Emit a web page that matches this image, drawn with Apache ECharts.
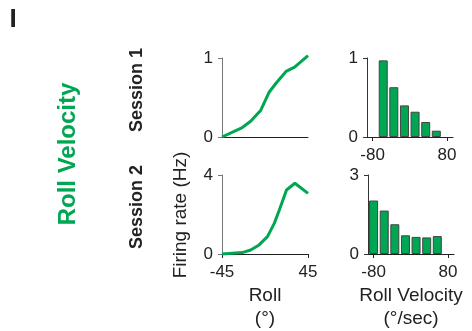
<!DOCTYPE html>
<html>
<head>
<meta charset="utf-8">
<script src="https://cdn.jsdelivr.net/npm/echarts@6/dist/echarts.min.js"></script>
<style>
html,body{margin:0;padding:0;background:#fff;}
#chart{width:472px;height:331px;}
</style>
</head>
<body>
<div id="chart"></div>
<script>
// ---- data ----
const session1RollX = [-45, -23.8, -15, -4.4, 4.5, 11.5, 22, 31, 45];
const session1Roll  = [0, 0.12, 0.20, 0.34, 0.57, 0.68, 0.83, 0.885, 1.03];
const session2RollX = [-45, -23.8, -15, -6.2, 2.6, 9.7, 15, 22.5, 31.3, 45];
const session2Roll  = [0, 0.07, 0.20, 0.46, 0.88, 1.55, 2.23, 3.24, 3.58, 3.07];
const velBinCenters = [-80, -57.1, -34.3, -11.4, 11.4, 34.3, 57.1];
const session1Vel   = [null, 0.97, 0.63, 0.40, 0.32, 0.19, 0.08];
const session2Vel   = [2.03, 1.65, 1.13, 0.71, 0.65, 0.63, 0.68];
const rollTicks = [-45, 45];
const velTicks = [-80, 80];

const GREEN = '#00a651';
const FONT = 'Liberation Sans, Arial, sans-serif';
const pairs = (xs, ys) => xs.map((x, i) => [x, ys[i]]);

const chart = echarts.init(document.getElementById('chart'), null, {renderer: 'canvas'});

function yAxis(gi, max, lineColor) {
  return {
    type: 'value', gridIndex: gi, min: 0, max: max, interval: max,
    axisLine: {show: true, onZero: false, lineStyle: {color: lineColor, width: 1}},
    axisTick: {show: true, length: 4, lineStyle: {color: lineColor}},
    axisLabel: {fontSize: 17, fontFamily: FONT, color: '#222', margin: 9},
    splitLine: {show: false}
  };
}
function xAxis(gi, min, max, ticks, showLabels, name) {
  return {
    type: 'value', gridIndex: gi, min: min, max: max,
    axisLine: {show: true, onZero: false, lineStyle: {color: '#222', width: 1}},
    axisTick: {show: showLabels, length: 4, customValues: ticks, lineStyle: {color: '#222'}},
    axisLabel: {show: showLabels, customValues: ticks, fontSize: 17, fontFamily: FONT, color: '#222', margin: 10},
    splitLine: {show: false},
    name: name || '', nameLocation: 'middle', nameGap: 30,
    nameTextStyle: {fontSize: 19, fontFamily: FONT, color: '#222', lineHeight: 23}
  };
}

const option = {
  animation: false,
  backgroundColor: '#fff',
  grid: [
    {left: 222, top: 58, width: 86, height: 79},
    {left: 367, top: 58, width: 86, height: 79},
    {left: 222, top: 175, width: 86, height: 79},
    {left: 368, top: 175, width: 86, height: 79}
  ],
  xAxis: [
    xAxis(0, -45, 45, rollTicks, false),
    xAxis(1, -92, 93, velTicks, true),
    xAxis(2, -45, 45, rollTicks, true, 'Roll\n(°)'),
    xAxis(3, -92, 93, velTicks, true, 'Roll Velocity\n(°/sec)')
  ],
  yAxis: [
    yAxis(0, 1, '#777'),
    yAxis(1, 1, '#333'),
    yAxis(2, 4, '#777'),
    yAxis(3, 3, '#333')
  ],
  series: [
    {type: 'line', xAxisIndex: 0, yAxisIndex: 0, data: pairs(session1RollX, session1Roll),
     showSymbol: false, clip: false, lineStyle: {color: GREEN, width: 3}},
    {type: 'bar', xAxisIndex: 1, yAxisIndex: 1, data: pairs(velBinCenters, session1Vel),
     barWidth: 9, itemStyle: {color: GREEN, borderColor: '#444', borderWidth: 1}},
    {type: 'line', xAxisIndex: 2, yAxisIndex: 2, data: pairs(session2RollX, session2Roll),
     showSymbol: false, clip: false, lineStyle: {color: GREEN, width: 3}},
    {type: 'bar', xAxisIndex: 3, yAxisIndex: 3, data: pairs(velBinCenters, session2Vel),
     barWidth: 9, itemStyle: {color: GREEN, borderColor: '#444', borderWidth: 1}}
  ],
  graphic: [
    {type: 'text', x: 13, y: 20, style: {text: 'I', font: 'bold 26px ' + FONT, fill: '#222', align: 'center', verticalAlign: 'middle'}},
    {type: 'text', x: 68, y: 154, rotation: Math.PI / 2, style: {text: 'Roll Velocity', font: 'bold 24px ' + FONT, fill: GREEN, align: 'center', verticalAlign: 'middle'}},
    {type: 'text', x: 137, y: 90, rotation: Math.PI / 2, style: {text: 'Session 1', font: 'bold 18px ' + FONT, fill: '#222', align: 'center', verticalAlign: 'middle'}},
    {type: 'text', x: 137, y: 207, rotation: Math.PI / 2, style: {text: 'Session 2', font: 'bold 18px ' + FONT, fill: '#222', align: 'center', verticalAlign: 'middle'}},
    {type: 'text', x: 181, y: 215, rotation: Math.PI / 2, style: {text: 'Firing rate (Hz)', font: '19px ' + FONT, fill: '#222', align: 'center', verticalAlign: 'middle'}}
  ]
};
chart.setOption(option);
</script>
</body>
</html>
